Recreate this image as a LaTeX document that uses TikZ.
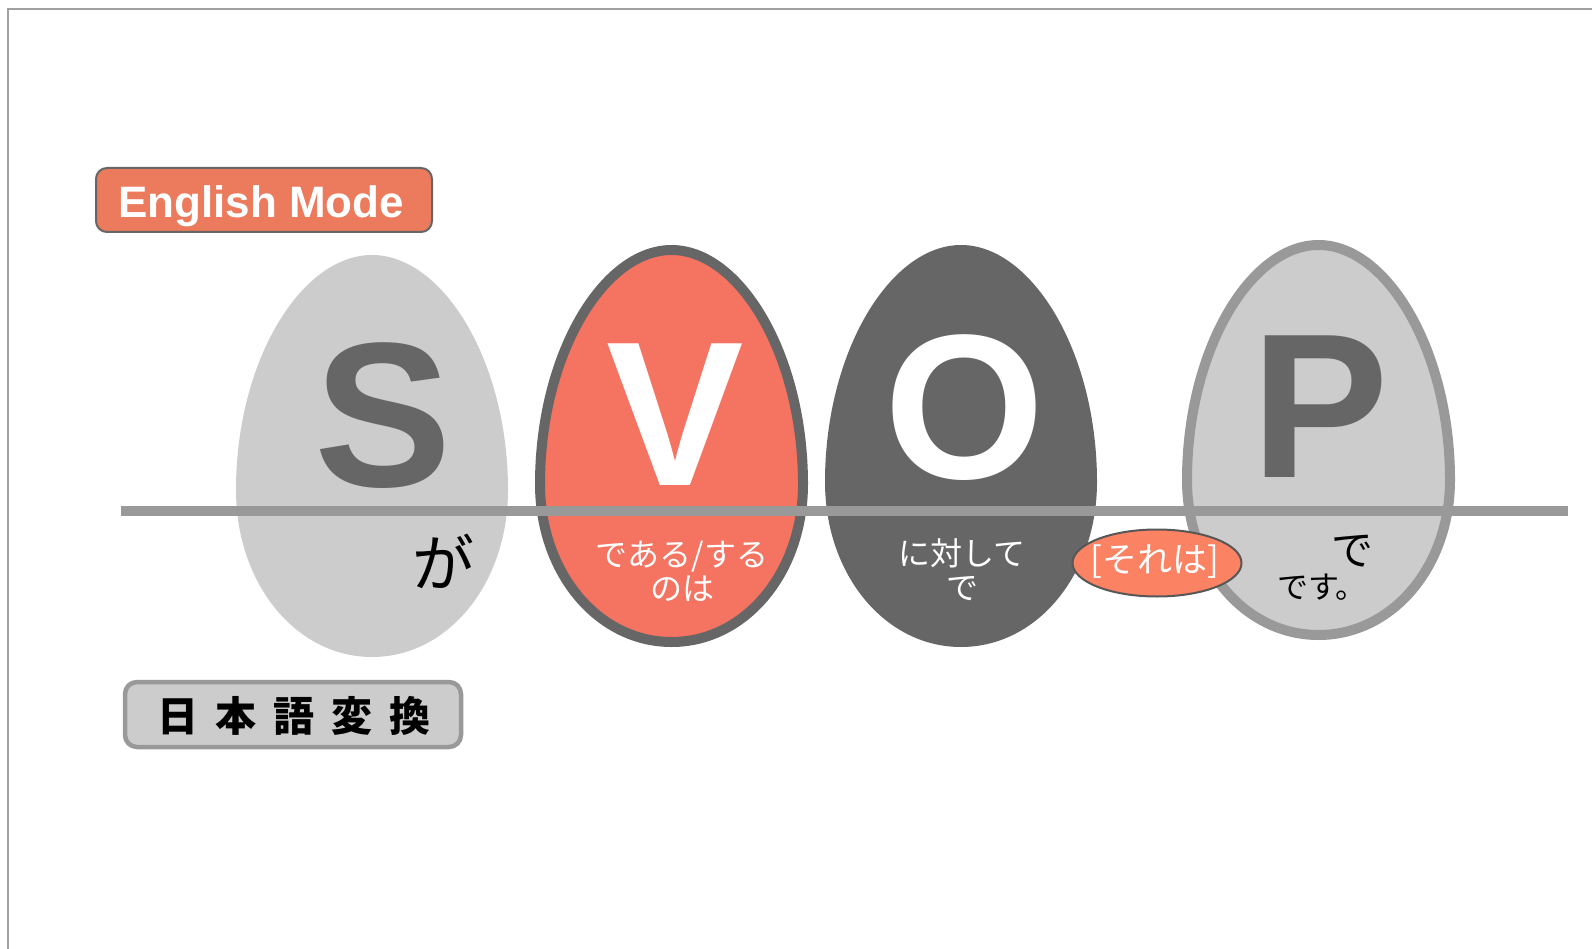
\documentclass[tikz,border=0pt]{standalone}
\usepackage{fontspec}
\usetikzlibrary{shapes.geometric}
\setmainfont{Liberation Sans}
\newfontfamily\jp{Noto Sans CJK JP}
\definecolor{eggLight}{HTML}{CCCCCC}
\definecolor{eggDark}{HTML}{666666}
\definecolor{eggRed}{HTML}{F47361}
\definecolor{lineGray}{HTML}{999999}
\definecolor{boxRed}{HTML}{EC7A5C}
\definecolor{ovalRed}{HTML}{FB8262}
\definecolor{ovalEdge}{HTML}{575757}
\definecolor{frameGray}{HTML}{A0A0A0}
\newcommand{\eggdraw}[6]{%
\path[#6] (#1,#2) .. controls ({#1+0.52*#5},#2) and ({#1+#5},{#3-0.55*(#3-#2)}) .. ({#1+#5},#3)
 .. controls ({#1+#5},{#3+0.56*(#4-#3)}) and ({#1+0.56*#5},#4) .. (#1,#4)
 .. controls ({#1-0.56*#5},#4) and ({#1-#5},{#3+0.56*(#4-#3)}) .. ({#1-#5},#3)
 .. controls ({#1-#5},{#3-0.55*(#3-#2)}) and ({#1-0.52*#5},#2) .. (#1,#2) -- cycle;}
\tikzset{
  bigletter/.style={anchor=base, inner sep=0pt, font=\fontsize{206}{206}\selectfont\bfseries},
  jtext/.style={inner sep=0pt, align=center, font=\jp\fontsize{32}{34}\selectfont},
}
\begin{document}
\begin{tikzpicture}[x=1pt,y=-1pt]
\useasboundingbox (0,0) rectangle (1592,949);
\fill[white] (0,0) rectangle (1592,949);
% page frame (top and left)
\draw[frameGray, line width=2.5pt] (8,949) -- (8,9) -- (1592,9);

% eggs
\eggdraw{372}{255}{490}{657}{136}{fill=eggLight}
\eggdraw{671.5}{250}{484}{642}{131.5}{fill=eggRed, draw=eggDark, line width=10pt}
\eggdraw{961}{245}{482}{647}{136}{fill=eggDark}
\eggdraw{1318.5}{245}{480}{635}{131.5}{fill=eggLight, draw=lineGray, line width=10pt}

% big letters
\node[bigletter, text=eggDark] (S) at (383,486) {S};
\node[bigletter, text=white] (V) at (675,485) {V};
\node[bigletter, text=white] (O) at (965,478) {O};
\node[bigletter, text=eggDark] (P) at (1320,477) {P};

% horizontal line
\coordinate (lineL) at (121,511);
\coordinate (lineR) at (1568,511);
\draw[lineGray, line width=10pt] (lineL) -- (lineR);

% particles
\node[inner sep=0pt, font=\jp\fontsize{62}{62}\selectfont] (ga) at (443,561) {が};
\node[jtext, text=white] (vt) at (682,571) {である/する\\のは};
\node[jtext, text=white] (ot) at (962,570) {に対して\\で};
\node[inner sep=0pt, font=\jp\fontsize{42}{42}\selectfont] (pde) at (1352,551) {で};
\node[inner sep=0pt, font=\jp\fontsize{31}{31}\selectfont] (pdesu) at (1322,587) {です。};

% [それは] oval
\node[ellipse, draw=ovalEdge, line width=2pt, fill=ovalRed, minimum width=169pt, minimum height=67pt, inner sep=0pt] (sore) at (1157,563) {};
\node[inner sep=0pt, text=white, font=\jp\fontsize{35}{35}\selectfont] (soretext) at (1155,562) {[それは]};

% English Mode box
\node[draw=eggDark, line width=2pt, fill=boxRed, rounded corners=11pt, minimum width=336pt, minimum height=64pt, inner sep=0pt] (eng) at (264,200) {};
\node[anchor=base, inner sep=0pt, text=white, font=\fontsize{44}{44}\selectfont\bfseries] (engtext) at (261,218) {English Mode};

% 日本語変換 box
\node[draw=lineGray, line width=4.5pt, fill=eggLight, rounded corners=12pt, minimum width=336pt, minimum height=65pt, inner sep=0pt] (jpbox) at (293,714.5) {};
\node[inner sep=0pt, font=\jp\fontsize{41}{41}\selectfont\bfseries] (jptext) at (294,716) {日\hskip17pt 本\hskip17pt 語\hskip17pt 変\hskip17pt 換};
\end{tikzpicture}
\end{document}
